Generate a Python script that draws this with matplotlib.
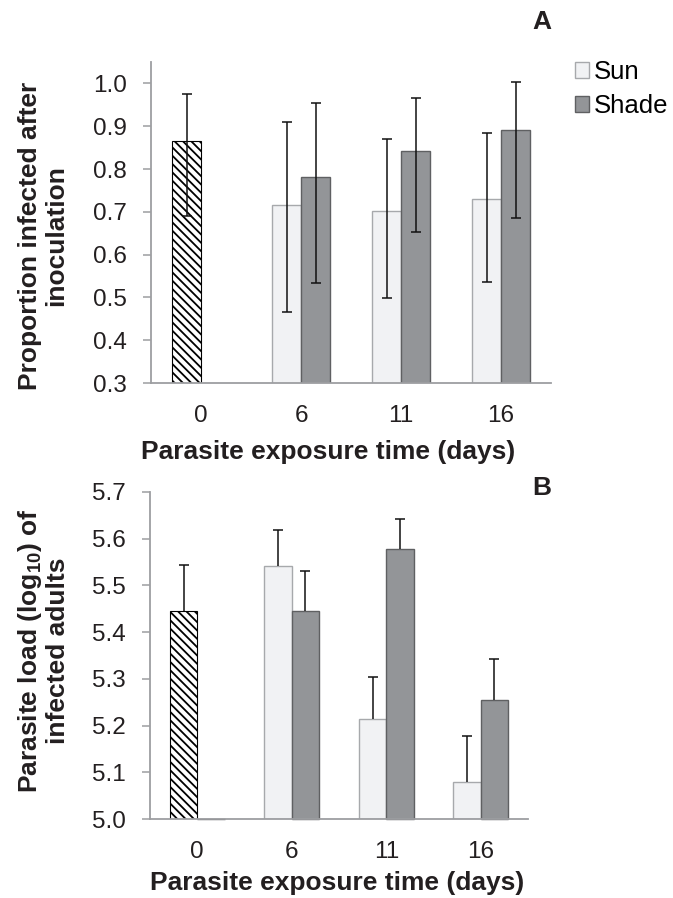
import matplotlib
matplotlib.use('Agg')
import matplotlib.pyplot as plt
import numpy as np
from matplotlib.patches import Patch

plt.rcParams['font.family'] = ['Liberation Sans', 'DejaVu Sans']
plt.rcParams['mathtext.fontset'] = 'custom'
plt.rcParams['mathtext.rm'] = 'Liberation Sans'
plt.rcParams['mathtext.bf'] = 'Liberation Sans:bold'
plt.rcParams['hatch.linewidth'] = 1.3

# ---------------- data ----------------
days = ['0', '6', '11', '16']
series = ['Sun', 'Shade']

# Panel A: proportion infected after inoculation (day 0 = hatched control bar)
propA_sun = [0.866, 0.716, 0.702, 0.729]
propA_shade = [np.nan, 0.782, 0.842, 0.892]
propA_sun_lo = [0.691, 0.466, 0.499, 0.535]
propA_sun_hi = [0.976, 0.909, 0.871, 0.885]
propA_shade_lo = [np.nan, 0.533, 0.653, 0.686]
propA_shade_hi = [np.nan, 0.954, 0.966, 1.003]

# Panel B: parasite load (log10) of infected adults
loadB_sun = [5.445, 5.542, 5.213, 5.080]
loadB_shade = [5.000, 5.446, 5.578, 5.254]
loadB_sun_hi = [5.543, 5.619, 5.304, 5.177]
loadB_shade_hi = [np.nan, 5.531, 5.642, 5.342]

# ---------------- style ----------------
SUN_FC, SUN_EC = '#f1f2f4', '#a7a9ac'
SHADE_FC, SHADE_EC = '#939598', '#5f6062'
SPINE = '#9d9ea1'
W = 0.29
TICK_FS = 17.5
LABEL_FS = 19
HATCH = '\\\\\\\\'

fig = plt.figure(figsize=(6.73, 8.98), dpi=100)
FW, FH = 673, 898


def add_ax(left, top, right, bottom):
    return fig.add_axes([left / FW, 1 - bottom / FH, (right - left) / FW, (bottom - top) / FH])


def style(ax, ylim, yticks, fmt):
    ax.set_xlim(-0.5, 3.5)
    ax.set_ylim(*ylim)
    ax.set_yticks(yticks)
    ax.set_yticklabels([fmt.format(v) for v in yticks])
    ax.set_xticks(np.arange(len(days)))
    ax.set_xticklabels(days)
    for s in ['top', 'right']:
        ax.spines[s].set_visible(False)
    for s in ['left', 'bottom']:
        ax.spines[s].set_color(SPINE)
        ax.spines[s].set_linewidth(1.3)
    ax.tick_params(axis='y', direction='out', length=5.8, width=1.1, color=SPINE,
                   labelsize=TICK_FS, pad=11.5, labelcolor='#231f20')
    ax.tick_params(axis='x', length=0, labelsize=TICK_FS, pad=16, labelcolor='#231f20')


def upper_only(eb):
    # hide the lower caps of one-sided error bars
    caps = eb[1]
    if len(caps) >= 2:
        caps[0].set_visible(False)


x = np.arange(len(days))
sun = np.array(propA_sun)
shade = np.array(propA_shade)
eb_kw = dict(fmt='none', ecolor='#111111', elinewidth=1.1, capsize=3.6, capthick=1.1, zorder=3)

# ---------- Panel A ----------
axA = add_ax(151, 62, 551, 383)
axA.bar(x[0] - W / 2, sun[0], W, color='white', edgecolor='black', hatch=HATCH,
        linewidth=0.8, zorder=2)
axA.bar(x[1:] - W / 2, sun[1:], W, color=SUN_FC, edgecolor=SUN_EC, linewidth=1.0, zorder=2)
axA.bar(x[1:] + W / 2, shade[1:], W, color=SHADE_FC, edgecolor=SHADE_EC, linewidth=1.0, zorder=2)
axA.errorbar(x - W / 2, sun, yerr=[sun - np.array(propA_sun_lo), np.array(propA_sun_hi) - sun], **eb_kw)
axA.errorbar(x[1:] + W / 2, shade[1:],
             yerr=[shade[1:] - np.array(propA_shade_lo)[1:], np.array(propA_shade_hi)[1:] - shade[1:]],
             **eb_kw)
style(axA, (0.3, 1.05), np.round(np.arange(0.3, 1.01, 0.1), 1), '{:.1f}')

# ---------- Panel B ----------
sunB = np.array(loadB_sun)
shadeB = np.array(loadB_shade)
axB = add_ax(150, 492, 528, 819)
axB.bar(x[0] - W / 2, sunB[0] - 5.0, W, bottom=5.0, color='white', edgecolor='black',
        hatch=HATCH, linewidth=0.8, zorder=2)
axB.bar(x[1:] - W / 2, sunB[1:] - 5.0, W, bottom=5.0, color=SUN_FC, edgecolor=SUN_EC,
        linewidth=1.0, zorder=2)
axB.bar(x + W / 2, shadeB - 5.0, W, bottom=5.0, color=SHADE_FC, edgecolor=SHADE_EC,
        linewidth=1.0, zorder=2, clip_on=False)
eb1 = axB.errorbar(x - W / 2, sunB, yerr=[np.zeros(4), np.array(loadB_sun_hi) - sunB], **eb_kw)
eb2 = axB.errorbar(x[1:] + W / 2, shadeB[1:],
                   yerr=[np.zeros(3), np.array(loadB_shade_hi)[1:] - shadeB[1:]], **eb_kw)
upper_only(eb1)
upper_only(eb2)
style(axB, (5.0, 5.7), np.round(np.arange(5.0, 5.71, 0.1), 1), '{:.1f}')

# ---------- labels ----------
fig.text(43 / FW, 1 - 236 / FH, 'Proportion infected after\ninoculation', rotation=90,
         ha='center', va='center', fontsize=LABEL_FS, fontweight='bold', linespacing=1.1,
         color='#231f20')
fig.text(43 / FW, 1 - 651 / FH, 'Parasite load (log$_{\\mathbf{10}}$) of\ninfected adults', rotation=90,
         ha='center', va='center', fontsize=LABEL_FS, fontweight='bold', linespacing=1.1,
         color='#231f20')
fig.text(328 / FW, 1 - 452 / FH, 'Parasite exposure time (days)', ha='center', va='center',
         fontsize=LABEL_FS, fontweight='bold', color='#231f20')
fig.text(337 / FW, 1 - 883 / FH, 'Parasite exposure time (days)', ha='center', va='center',
         fontsize=LABEL_FS, fontweight='bold', color='#231f20')
fig.text(542 / FW, 1 - 22 / FH, 'A', ha='center', va='center', fontsize=LABEL_FS,
         fontweight='bold', color='#231f20')
fig.text(542 / FW, 1 - 488 / FH, 'B', ha='center', va='center', fontsize=LABEL_FS,
         fontweight='bold', color='#231f20')

handles = [Patch(facecolor=SUN_FC, edgecolor=SUN_EC, linewidth=1.0),
           Patch(facecolor=SHADE_FC, edgecolor=SHADE_EC, linewidth=1.0)]
fig.legend(handles, series, loc='upper left', bbox_to_anchor=(575 / FW, 1 - 60 / FH),
           frameon=False, fontsize=18.5, handlelength=0.55, handleheight=0.55,
           handletextpad=0.2, labelspacing=0.4, borderpad=0, borderaxespad=0)

fig.savefig('out.png', dpi=100)
